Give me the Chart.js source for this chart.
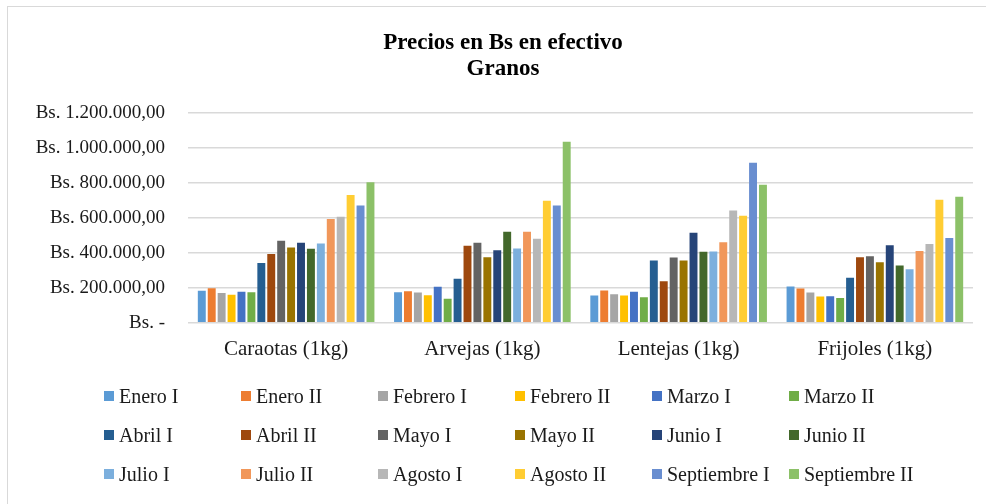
<!DOCTYPE html>
<html>
<head>
<meta charset="utf-8">
<script src="https://cdn.jsdelivr.net/npm/chart.js@4"></script>
<style>
  body { margin: 0; background: #fff; }
  #wrap { position: relative; width: 986px; height: 504px; overflow: hidden; }
  #frame { position: absolute; left: 7px; top: 6px; width: 990px; height: 510px;
           border-left: 1px solid #d9d9d9; border-top: 1px solid #d9d9d9; }
  canvas { position: absolute; left: 0; top: 0; }
  #legend { position: absolute; left: 104px; top: 385px;
            display: grid; grid-template-columns: repeat(6, 137px); grid-auto-rows: 39px;
            font-family: "Liberation Serif", serif; font-size: 20px; color: #1a1a1a; }
  #legend div { display: flex; align-items: center; height: 22px; white-space: nowrap; }
  #legend span.box { display: inline-block; width: 10px; height: 10px; margin-right: 5px; }
</style>
</head>
<body>
<div id="wrap">
  <div id="frame"></div>
  <canvas id="chart" width="986" height="504"></canvas>
  <div id="legend"></div>
</div>
<script>
const categories = ['Caraotas (1kg)', 'Arvejas (1kg)', 'Lentejas (1kg)', 'Frijoles (1kg)'];

const seriesNames = [
  'Enero I', 'Enero II', 'Febrero I', 'Febrero II', 'Marzo I', 'Marzo II',
  'Abril I', 'Abril II', 'Mayo I', 'Mayo II', 'Junio I', 'Junio II',
  'Julio I', 'Julio II', 'Agosto I', 'Agosto II', 'Septiembre I', 'Septiembre II'
];

// one value per series (same order as seriesNames), per category
const caraotas = [183000, 198000, 171000, 160000, 177000, 175000, 342000, 394000, 469000,
                  431000, 458000, 423000, 454000, 594000, 606000, 731000, 671000, 804000];
const arvejas  = [175000, 181000, 173000, 158000, 206000, 137000, 252000, 440000, 458000,
                  375000, 415000, 521000, 425000, 521000, 481000, 698000, 671000, 1036000];
const lentejas = [156000, 185000, 163000, 156000, 177000, 146000, 356000, 238000, 373000,
                  356000, 515000, 406000, 408000, 460000, 642000, 612000, 915000, 790000];
const frijoles = [208000, 196000, 173000, 150000, 152000, 142000, 258000, 375000, 381000,
                  346000, 444000, 327000, 306000, 411000, 450000, 704000, 485000, 721000];

const yTicks = [0, 200000, 400000, 600000, 800000, 1000000, 1200000];

const seriesColors = [
  '#5B9BD5', '#ED7D31', '#A5A5A5', '#FFC000', '#4472C4', '#70AD47',
  '#255E91', '#9E480E', '#636363', '#997300', '#264478', '#43682B',
  '#7CAFDD', '#F1975A', '#B7B7B7', '#FFCD33', '#698ED0', '#8CC168'
];

const byCategory = [caraotas, arvejas, lentejas, frijoles];
const serif = '"Liberation Serif", serif';

function bs(v) {
  if (v === 0) return 'Bs. -';
  return 'Bs. ' + v.toLocaleString('de-DE', { minimumFractionDigits: 2, maximumFractionDigits: 2 });
}

const datasets = seriesNames.map((name, i) => ({
  label: name,
  data: byCategory.map(cat => cat[i]),
  backgroundColor: seriesColors[i],
  categoryPercentage: 0.91,
  barPercentage: 0.8
}));

// the title sits centred on the whole frame, not on the plot
const shiftTitle = {
  id: 'shiftTitle',
  afterLayout(chart) {
    if (chart.titleBlock) chart.titleBlock.left += 33;
  }
};

const chart = new Chart(document.getElementById('chart').getContext('2d'), {
  type: 'bar',
  data: { labels: categories, datasets: datasets },
  plugins: [shiftTitle],
  options: {
    responsive: false,
    animation: false,
    layout: { padding: { left: 0, right: 13, top: 0, bottom: 128 } },
    plugins: {
      legend: { display: false },
      tooltip: { enabled: false },
      title: {
        display: true,
        text: ['Precios en Bs en efectivo', 'Granos'],
        color: '#000',
        font: { family: serif, size: 23, weight: 'bold', lineHeight: 1.13 },
        padding: { top: 30, bottom: 31 }
      }
    },
    scales: {
      x: {
        grid: { display: false, drawTicks: false },
        border: { display: false },
        ticks: { color: '#1a1a1a', font: { family: serif, size: 21 }, padding: 14 }
      },
      y: {
        min: 0,
        max: yTicks[yTicks.length - 1],
        afterBuildTicks: scale => { scale.ticks = yTicks.map(v => ({ value: v })); },
        afterFit: scale => { scale.width = 188; },
        grid: { color: '#d9d9d9', lineWidth: 1.5, drawTicks: false },
        border: { display: false },
        ticks: { color: '#1a1a1a', font: { family: serif, size: 19 }, padding: 23, callback: v => bs(v) }
      }
    }
  }
});

// legend laid out in fixed columns, like the original
const legendEl = document.getElementById('legend');
chart.data.datasets.forEach(ds => {
  const item = document.createElement('div');
  const box = document.createElement('span');
  box.className = 'box';
  box.style.background = ds.backgroundColor;
  item.appendChild(box);
  item.appendChild(document.createTextNode(ds.label));
  legendEl.appendChild(item);
});
</script>
</body>
</html>
